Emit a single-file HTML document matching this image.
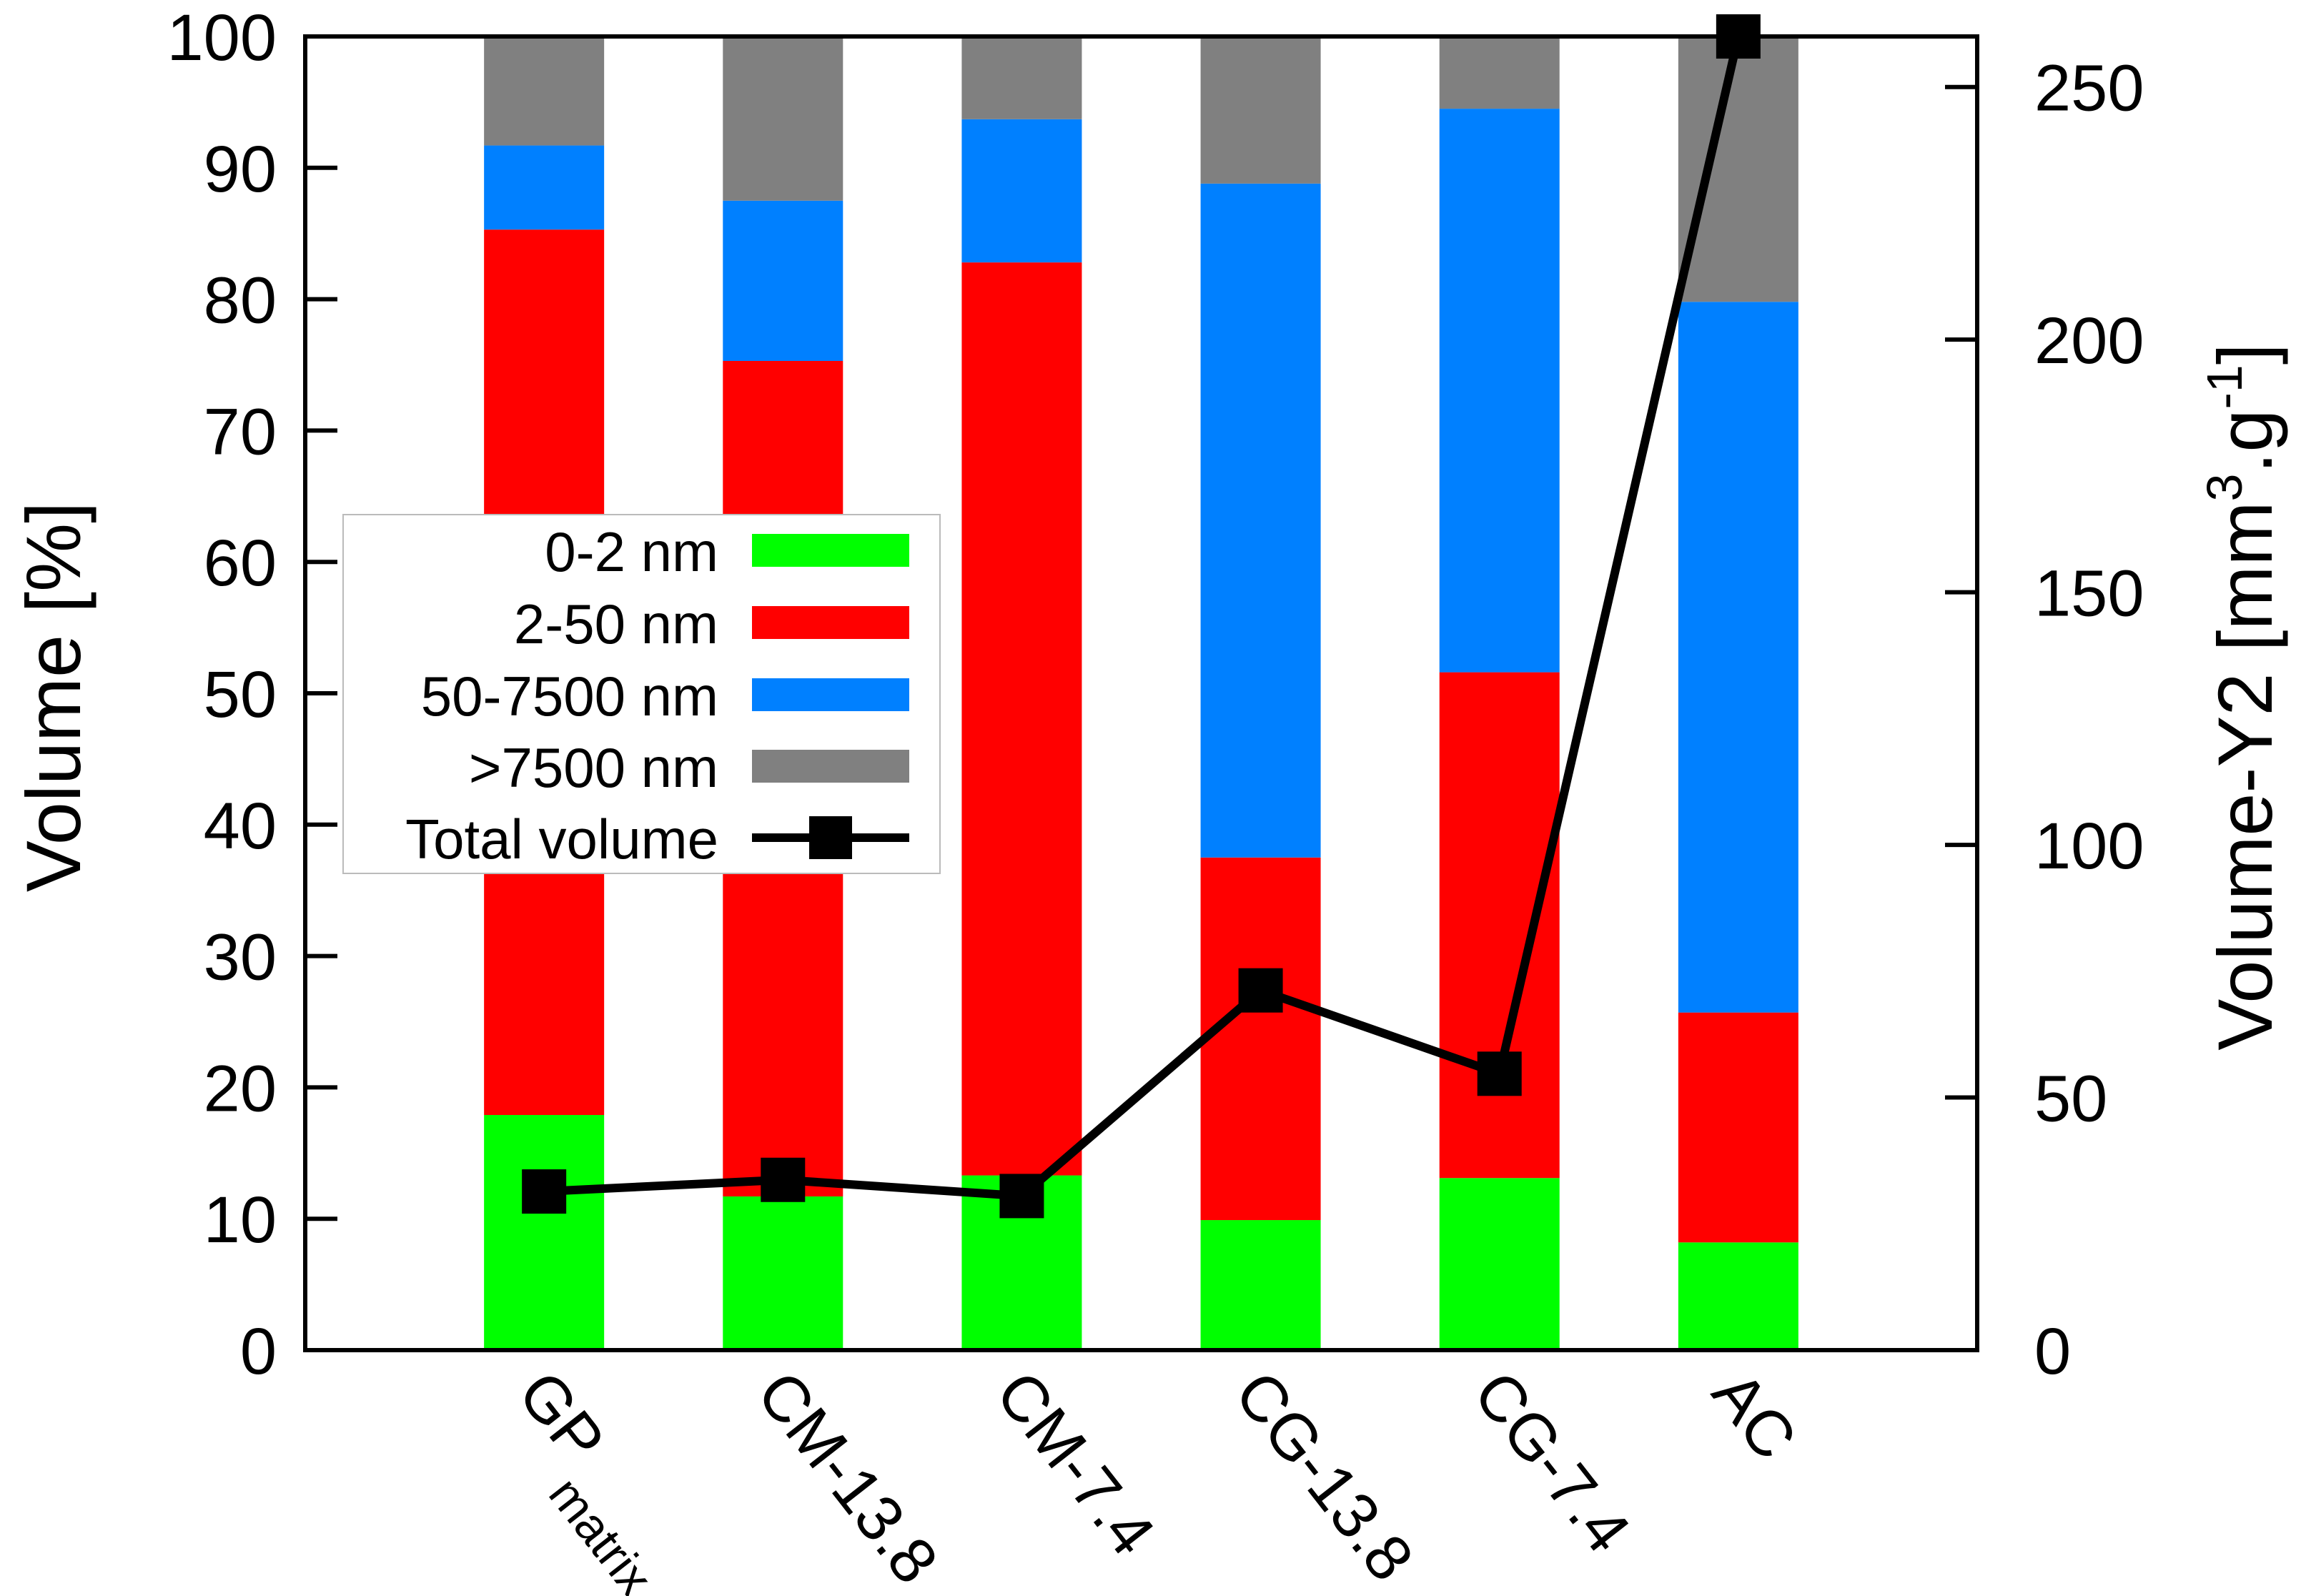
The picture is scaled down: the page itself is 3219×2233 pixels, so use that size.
<!DOCTYPE html>
<html><head><meta charset="utf-8"><style>
html,body{margin:0;padding:0;background:#fff;}
svg{display:block;font-family:"Liberation Sans",sans-serif;}
</style></head><body>
<svg id="chart" width="3219" height="2233" viewBox="0 0 3219 2233" xmlns="http://www.w3.org/2000/svg">
<g id="bars"></g>
<g id="line"></g>
<g id="axes"></g>
<g id="legend"></g>
</svg>
<script>
const categories = ["GP", "CM-13.8", "CM-7.4", "CG-13.8", "CG-7.4", "AC"];
const micro = [17.9, 11.7, 13.3, 9.9, 13.1, 8.2];
const meso = [67.4, 63.6, 69.5, 27.6, 38.5, 17.5];
const macro = [6.4, 12.2, 10.9, 51.3, 42.9, 54.1];
const large = [8.3, 12.5, 6.3, 11.2, 5.5, 20.2];
const totalVolume = [31.4, 33.7, 30.5, 71.2, 54.7, 260];
const yTicks = [0, 10, 20, 30, 40, 50, 60, 70, 80, 90, 100];
const y2Ticks = [0, 50, 100, 150, 200, 250];

const NS = "http://www.w3.org/2000/svg";
const L = 427, R = 2766, T = 51, B = 1889;
const xMin = -1, xMax = 6, y2Max = 260;
const xS = v => L + (v - xMin) / (xMax - xMin) * (R - L);
const yS = v => B - v / 100 * (B - T);
const y2S = v => B - v / y2Max * (B - T);
const barW = 168;
function mk(tag, attrs, parent, text) {
  const e = document.createElementNS(NS, tag);
  for (const k in attrs) e.setAttribute(k, attrs[k]);
  if (text !== undefined) e.textContent = text;
  parent.appendChild(e);
  return e;
}
const colors = ["#00ff00", "#ff0000", "#0080ff", "#808080"];
const series = [micro, meso, macro, large];
const seriesNames = ["micro", "meso", "macro", "large"];
const gB = document.getElementById("bars");
categories.forEach((c, i) => {
  let base = 0;
  series.forEach((s, k) => {
    const v = s[i];
    const r = mk("rect", {x: xS(i) - barW / 2, y: yS(base + v), width: barW, height: yS(base) - yS(base + v), fill: colors[k]}, gB);
    
    
    base += v;
  });
});
const gL = document.getElementById("line");
const pts = totalVolume.map((v, i) => xS(i) + "," + y2S(v)).join(" ");
const pl = mk("polyline", {points: pts, fill: "none", stroke: "#000", "stroke-width": 12, "stroke-linejoin": "miter"}, gL);


totalVolume.forEach((v, i) => {
  const m = mk("rect", {x: xS(i) - 31, y: y2S(v) - 31, width: 62, height: 62, fill: "#000"}, gL);
  
  
});
const gA = document.getElementById("axes");
const frame = mk("rect", {x: L, y: T, width: R - L, height: B - T, fill: "none", stroke: "#000", "stroke-width": 6}, gA);


yTicks.forEach(t => {
  mk("line", {x1: L, x2: L + 45, y1: yS(t), y2: yS(t), stroke: "#000", "stroke-width": 6}, gA);
  const tx = mk("text", {x: L - 40, y: yS(t) + 33, "text-anchor": "end", "font-size": 92}, gA, t);
  
  
});
y2Ticks.forEach(t => {
  mk("line", {x1: R - 45, x2: R, y1: y2S(t), y2: y2S(t), stroke: "#000", "stroke-width": 6}, gA);
  const tx = mk("text", {x: R + 80, y: y2S(t) + 33, "text-anchor": "start", "font-size": 92}, gA, t);
  
  
});
categories.forEach((c, i) => {
  const x = xS(i) - 40, y = 1950;
  const tx = mk("text", {x: x, y: y, "font-size": 90, transform: `rotate(52 ${x} ${y})`}, gA, c);
  if (i === 0) { mk("tspan", {"font-size": 68, dy: 52, dx: 8}, tx, "matrix"); }
  
  
});
const yt = mk("text", {x: 0, y: 0, "text-anchor": "middle", "font-size": 108, transform: "translate(112 975) rotate(-90)"}, gA, "Volume [%]");


const y2t = mk("text", {x: 0, y: 0, "text-anchor": "middle", "font-size": 108, transform: "translate(3178 975) rotate(-90)"}, gA);


y2t.appendChild(document.createTextNode("Volume-Y2 [mm"));
mk("tspan", {"font-size": 70, dy: -42}, y2t, "3");
mk("tspan", {dy: 42}, y2t, ".g");
mk("tspan", {"font-size": 70, dy: -42}, y2t, "-1");
mk("tspan", {dy: 42}, y2t, "]");
const gG = document.getElementById("legend");
const box = mk("rect", {x: 480, y: 720, width: 835, height: 502, fill: "#fff", stroke: "#bbb", "stroke-width": 2}, gG);


const labels = ["0-2 nm", "2-50 nm", "50-7500 nm", ">7500 nm", "Total volume"];
const rowsY = [770, 871, 972, 1072, 1172];
labels.forEach((lb, k) => {
  const t = mk("text", {x: 1005, y: rowsY[k] + 29, "text-anchor": "end", "font-size": 78}, gG, lb);
  
  
  if (k < 4) {
    const s = mk("rect", {x: 1052, y: rowsY[k] - 23, width: 220, height: 46, fill: colors[k]}, gG);
    
    
  } else {
    mk("line", {x1: 1052, x2: 1272, y1: rowsY[k], y2: rowsY[k], stroke: "#000", "stroke-width": 12}, gG);
    const s = mk("rect", {x: 1132, y: rowsY[k] - 30, width: 60, height: 60, fill: "#000"}, gG);
    
    
  }
});
</script>
</body></html>
